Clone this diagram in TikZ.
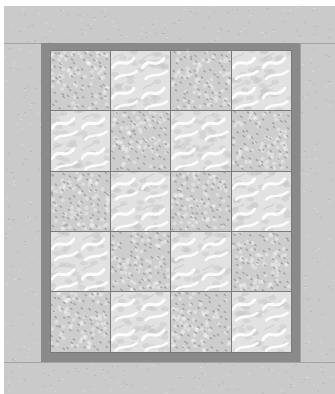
\documentclass[tikz,border=0pt]{standalone}
\definecolor{band}{HTML}{CACACA}
\definecolor{bandline}{HTML}{A4A4A4}
\definecolor{framec}{HTML}{8A8A8A}
\definecolor{speckbase}{HTML}{CDCDCD}
\definecolor{speckdot}{HTML}{9C9C9C}
\definecolor{swbase}{HTML}{E2E2E2}
\definecolor{swdark}{HTML}{C6C6C6}
\definecolor{seam}{HTML}{7A7A7A}
\newcommand{\myspeck}[2]{%
  \fill[speckbase] (#1,#2) rectangle ++(60.25,60.4);
  \foreach \k in {1,...,70}{%
    \pgfmathsetmacro\px{#1+1+58*rnd}%
    \pgfmathsetmacro\py{#2+1+58*rnd}%
    \fill[white,opacity=0.35] (\px,\py) circle (2);
  }
  \foreach \a in {0,...,7}{\foreach \b in {0,...,7}{%
    \pgfmathsetmacro\px{#1+4+7.4*\a+3*rand}%
    \pgfmathsetmacro\py{#2+4+7.4*\b+3*rand}%
    \fill[speckdot,opacity=0.8] (\px,\py) circle (1.0) ++(1.1,0.9) circle (0.8);
  }}
}
\newcommand{\myswirl}[2]{%
  \fill[swbase] (#1,#2) rectangle ++(60.25,60.4);
  \begin{scope}
  \clip (#1,#2) rectangle ++(60.25,60.4);
  \foreach \k in {1,...,40}{%
    \pgfmathsetmacro\px{#1+60*rnd}%
    \pgfmathsetmacro\py{#2+60*rnd}%
    \fill[swdark,opacity=0.45] (\px,\py) ellipse (4 and 2.5);
  }
  \foreach \i in {0,30.1}{\foreach \j in {0,30.2}{%
    \begin{scope}[shift={(#1+\i,#2+\j)}]
      \draw[white,line width=3,line cap=round,opacity=0.9] (2,18) .. controls (9,6) and (15,20) .. (24,8);
      \draw[white,line width=2.5,line cap=round,opacity=0.9] (5,29) .. controls (12,22) and (18,28) .. (27,21);
      \draw[swdark,line width=1.2,line cap=round,opacity=0.6] (3,9) .. controls (6,4) and (10,7) .. (13,3);
    \end{scope}
  }}
  \end{scope}
}
\begin{document}
\begin{tikzpicture}[x=1pt,y=-1pt]
\useasboundingbox (0,0) rectangle (335,394);
\fill[white] (0,0) rectangle (335,394);
\fill[band] (4,6) rectangle (335,394);
\pgfmathsetseed{7}
\foreach \k in {1,...,700}{%
  \pgfmathsetmacro\px{4+329*rnd}%
  \pgfmathsetmacro\py{6+386*rnd}%
  \fill[white,opacity=0.25] (\px,\py) rectangle ++(1.5,1);
}
\foreach \k in {1,...,700}{%
  \pgfmathsetmacro\px{4+329*rnd}%
  \pgfmathsetmacro\py{6+386*rnd}%
  \fill[gray,opacity=0.2] (\px,\py) rectangle ++(2,1);
}
\draw[bandline] (4,43) -- (335,43);
\draw[bandline] (4,362) -- (335,362);
\draw[bandline] (41,43) -- (41,362);
\draw[bandline] (300,43) -- (300,362);
\fill[framec] (41,43) rectangle (300,362);
\foreach \c/\x in {0/50,1/110.25,2/170.5,3/230.75}{%
  \foreach \r/\y in {0/50,1/110.4,2/170.8,3/231.2,4/291.6}{%
    \pgfmathtruncatemacro\myparity{mod(\c+\r,2)}%
    \ifnum\myparity=0 \myspeck{\x}{\y}\else \myswirl{\x}{\y}\fi
  }
}
\foreach \x in {110.25,170.5,230.75}{\draw[seam,line width=0.5] (\x,50) -- (\x,352);}
\foreach \y in {110.4,170.8,231.2,291.6}{\draw[seam,line width=0.5] (50,\y) -- (291,\y);}
\draw[seam,line width=0.5] (50,50) rectangle (291,352);
\end{tikzpicture}
\end{document}
